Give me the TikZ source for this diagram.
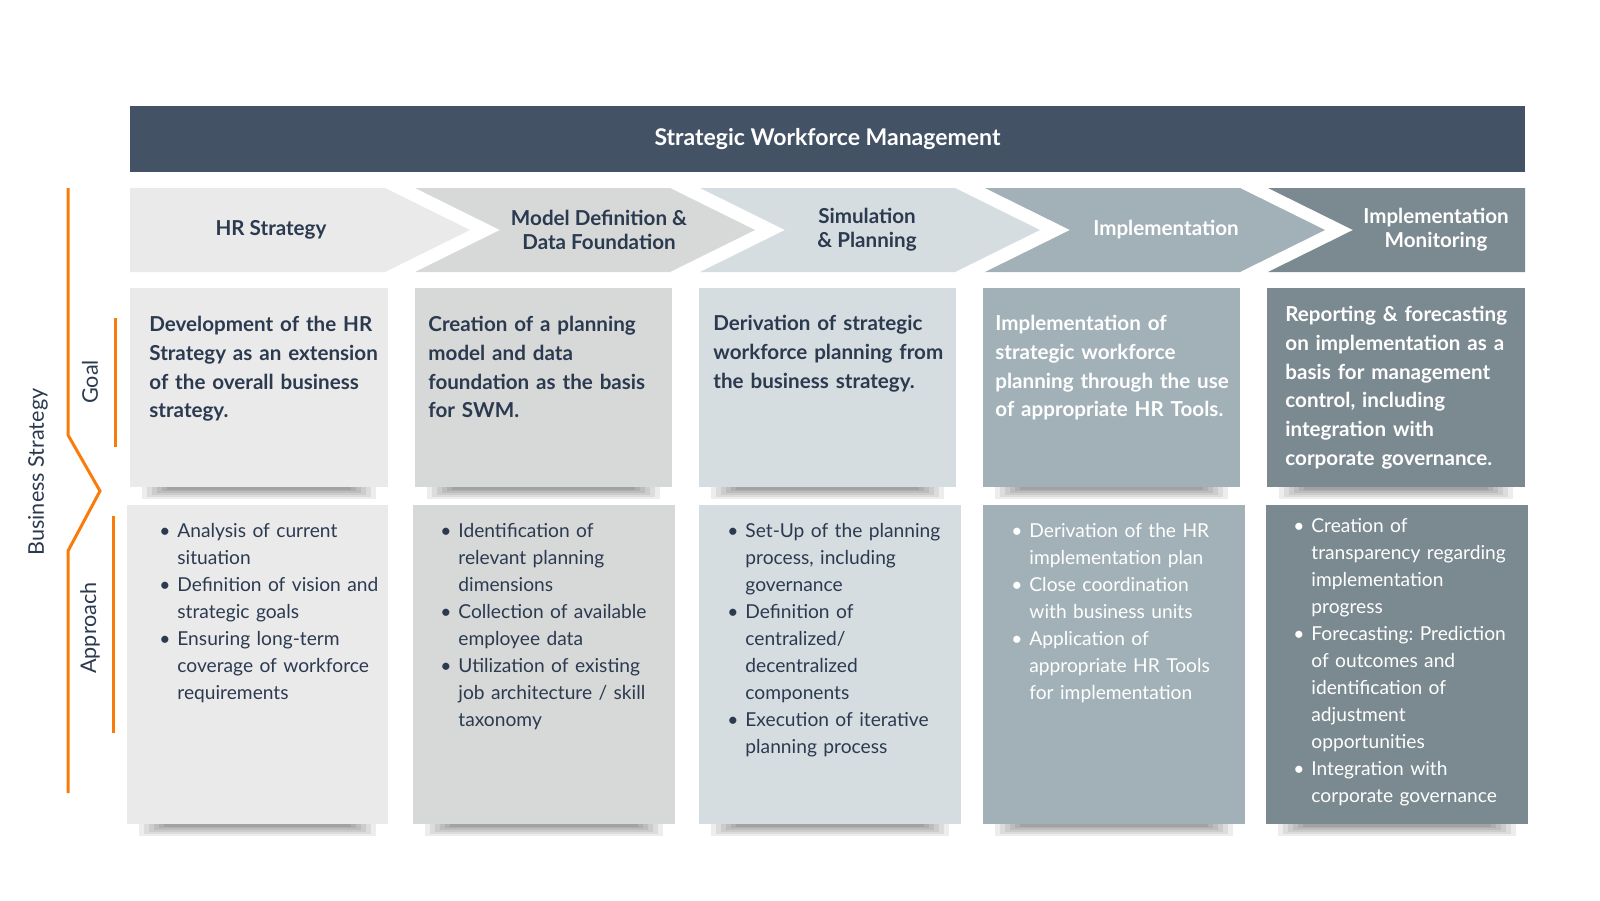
\documentclass[tikz,border=0pt]{standalone}
\usepackage{fontspec}
\setmainfont{Lato}
\usetikzlibrary{positioning,calc}

\definecolor{colA}{HTML}{EAEAEA}
\definecolor{colB}{HTML}{D7D9D8}
\definecolor{colC}{HTML}{D5DDE1}
\definecolor{colD}{HTML}{A2B1B8}
\definecolor{colE}{HTML}{7B8990}
\definecolor{barcol}{HTML}{435265}
\definecolor{navy}{HTML}{2C3A50}
\definecolor{bsorange}{HTML}{F97C0A}

% bullets with hanging indent
\newcommand{\apfirst}{\noindent\hangindent=9pt\hangafter=1\makebox[9pt][l]{\textbullet}}
\newcommand{\apitem}{\par\apfirst}

\begin{document}
\frenchspacing
\begin{tikzpicture}[x=0.5pt, y=-0.5pt,
    card/.style={anchor=north west, inner sep=0pt, outer sep=0pt},
    goaltext/.style={inner sep=0pt, text width=125pt, align=left, font=\bfseries\fontsize{10.3}{14.35}\selectfont},
    apptext/.style={inner sep=0pt, text width=125pt, align=left, font=\fontsize{9.6}{13.5}\selectfont},
    phase/.style={align=center, font=\bfseries\fontsize{10.3}{12}\selectfont},
    sidelabel/.style={rotate=90, text=navy, font=\fontsize{10.8}{13}\selectfont},
    orangeline/.style={draw=bsorange, line width=1.5pt},
    cardshadow/.style={fill=black, opacity=0.07}]

    \fill[white] (0,0) rectangle (1600,900);

    % title bar
    \node[card, fill=barcol, text=white, font=\bfseries\fontsize{11.5}{14}\selectfont,
          minimum width=697.5pt, minimum height=33pt, anchor=north west] (title) at (130,106) {Strategic Workforce Management};

    % phase chevrons
    \fill[colA] (130,188) -- (385,188) -- (470,230) -- (385,272) -- (130,272) -- cycle;
    \foreach \xl/\col in {415/colB, 700/colC, 985/colD}
        \fill[\col] (\xl,188) -- ++(255,0) -- ++(85,42) -- ++(-85,42) -- ++(-255,0) -- ++(85,-42) -- cycle;
    \fill[colE] (1268,188) -- (1525,188) -- (1525,272) -- (1268,272) -- (1353,230) -- cycle;

    \node[phase, text=navy] (c1) at (271,230) {HR Strategy};
    \node[phase, text=navy] (c2) at (599,230) {Model Definition \&\\Data Foundation};
    \node[phase, text=navy] (c3) at (867,230) {Simulation\\\& Planning};
    \node[phase, text=white] (c4) at (1166,230) {Implementation};
    \node[phase, text=white] (c5) at (1436,230) {Implementation\\Monitoring};

    % goal row
    \node[card, fill=colA, minimum width=129pt, minimum height=99.5pt] (g1) at (130,288) {};
    \node[card, fill=colB, minimum width=128.5pt, minimum height=99.5pt] (g2) at (415,288) {};
    \node[card, fill=colC, minimum width=128.5pt, minimum height=99.5pt] (g3) at (699,288) {};
    \node[card, fill=colD, minimum width=128.5pt, minimum height=99.5pt] (g4) at (983,288) {};
    \node[card, fill=colE, minimum width=129pt, minimum height=99.5pt] (g5) at (1267,288) {};

    \node[goaltext, text=navy, below right=14pt and 9.5pt of g1.north west] (g1t)
        {Development of the HR\\Strategy as an extension\\of the overall business\\strategy.};
    \node[goaltext, text=navy, below right=14pt and 6.5pt of g2.north west] (g2t)
        {Creation of a planning\\model and data\\foundation as the basis\\for SWM.};
    \node[goaltext, text=navy, below right=13.5pt and 7pt of g3.north west] (g3t)
        {Derivation of strategic\\workforce planning from\\the business strategy.};
    \node[goaltext, text=white, below right=13.5pt and 6pt of g4.north west] (g4t)
        {Implementation of\\strategic workforce\\planning through the use\\of appropriate HR Tools.};
    \node[goaltext, text=white, below right=9pt and 9pt of g5.north west] (g5t)
        {Reporting \& forecasting\\on implementation as a\\basis for management\\control, including\\integration with\\corporate governance.};

    % approach row
    \node[card, fill=colA, minimum width=130.5pt, minimum height=159.5pt] (a1) at (127,505) {};
    \node[card, fill=colB, minimum width=131pt, minimum height=159.5pt] (a2) at (413,505) {};
    \node[card, fill=colC, minimum width=131pt, minimum height=159.5pt] (a3) at (699,505) {};
    \node[card, fill=colD, minimum width=131pt, minimum height=159.5pt] (a4) at (983,505) {};
    \node[card, fill=colE, minimum width=131pt, minimum height=159.5pt] (a5) at (1266,505) {};

    \node[apptext, text=navy, below right=9pt and 16pt of a1.north west] (a1t)
        {\apfirst Analysis of current\newline situation
         \apitem Definition of vision and\newline strategic goals
         \apitem Ensuring long-term\newline coverage of workforce\newline requirements\par};
    \node[apptext, text=navy, below right=9pt and 13.5pt of a2.north west] (a2t)
        {\apfirst Identification of\newline relevant planning\newline dimensions
         \apitem Collection of available\newline employee data
         \apitem Utilization of existing\newline job architecture / skill\newline taxonomy\par};
    \node[apptext, text=navy, below right=9pt and 14pt of a3.north west] (a3t)
        {\apfirst Set-Up of the planning\newline process, including\newline governance
         \apitem Definition of\newline centralized/\newline decentralized\newline components
         \apitem Execution of iterative\newline planning process\par};
    \node[apptext, text=white, below right=9pt and 14pt of a4.north west] (a4t)
        {\apfirst Derivation of the HR\newline implementation plan
         \apitem Close coordination\newline with business units
         \apitem Application of\newline appropriate HR Tools\newline for implementation\par};
    \node[apptext, text=white, below right=6.5pt and 13.5pt of a5.north west] (a5t)
        {\apfirst Creation of\newline transparency regarding\newline implementation\newline progress
         \apitem Forecasting: Prediction\newline of outcomes and\newline identification of\newline adjustment\newline opportunities
         \apitem Integration with\newline corporate governance\par};

    % soft shadows under the cards
    \foreach \n in {g1,g2,g3,g4,g5,a1,a2,a3,a4,a5}
        \foreach \k in {0,...,5}
            \fill[cardshadow] ($(\n.south west)+(12+5*\k,0)$) rectangle ($(\n.south east)+(-12-5*\k,12-1.9*\k)$);

    % business strategy bracket
    \draw[orangeline] (68,188) -- (68,435) -- (100,491) -- (68,551) -- (68,793);
    \draw[orangeline] (115,318) -- (115,447);
    \draw[orangeline] (113,516) -- (113,733);

    \node[sidelabel] (bs) at (38,472) {Business Strategy};
    \node[sidelabel] (goal) at (90,382) {Goal};
    \node[sidelabel] (appr) at (90,628) {Approach};

    \pgfresetboundingbox
    \path[use as bounding box] (0,0) rectangle (1600,900);
\end{tikzpicture}
\end{document}
